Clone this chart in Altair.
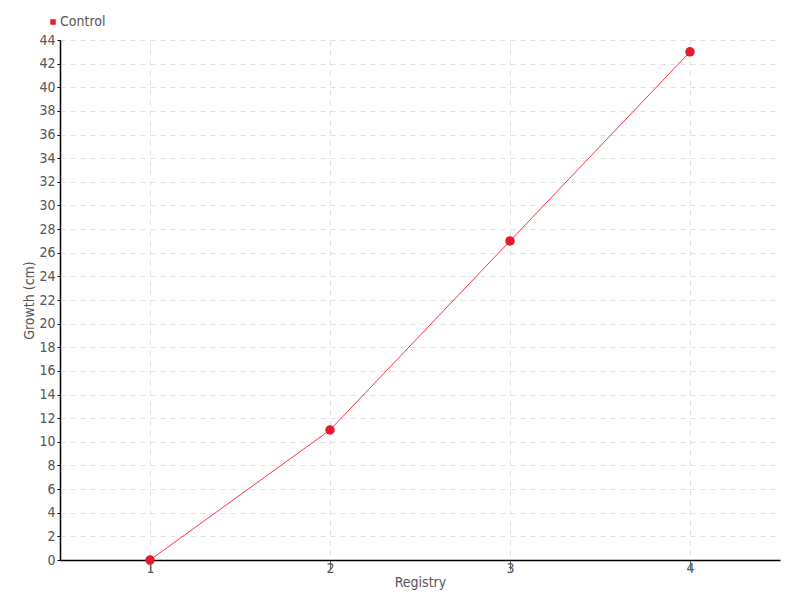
import altair as alt
import pandas as pd

registry = ["1", "2", "3", "4"]
growth = [0, 11, 27, 43]
series = ["Control"] * 4

df = pd.DataFrame({"Registry": registry, "Growth": growth, "Series": series})

FONT = "Liberation Sans Narrow, DejaVu Sans Condensed"
RED = "#e8192c"

color = alt.Color("Series:N", scale=alt.Scale(domain=["Control"], range=[RED]),
                  legend=alt.Legend(title=None, orient="none", legendX=-14, legendY=-25,
                                    symbolType="square", symbolSize=30, labelFontSize=14,
                                    labelColor="#555", labelFont=FONT, symbolStrokeWidth=0,
                                    labelOffset=0))

x = alt.X("Registry:N", sort=registry,
          scale=alt.Scale(type="point", padding=0.5),
          axis=alt.Axis(title="Registry", labelAngle=0, grid=True, gridDash=[5, 5],
                        gridColor="#e0e0e0", domainColor="#000", tickColor="#666",
                        tickSize=10, labelPadding=-9, labelFontSize=14, labelColor="#555",
                        titleFontSize=14, titleColor="#555", titleFontWeight="normal",
                        titlePadding=0, labelFont=FONT, titleFont=FONT))
y = alt.Y("Growth:Q", scale=alt.Scale(domain=[0, 44], nice=False),
          axis=alt.Axis(title="Growth (cm)", values=list(range(0, 45, 2)), grid=True,
                        gridDash=[5, 5], gridColor="#e0e0e0", domainColor="#000",
                        tickColor="#000", tickSize=3, labelFontSize=14, labelColor="#555",
                        labelPadding=2, titleFontSize=14, titleColor="#555",
                        titleFontWeight="normal", titlePadding=2, labelFont=FONT,
                        titleFont=FONT))

line = alt.Chart(df).mark_line(color="#ff3344", strokeWidth=1).encode(x=x, y=y)
pts = alt.Chart(df).mark_point(filled=True, size=90, opacity=1).encode(x=x, y=y, color=color)

chart = (line + pts).properties(
    width=720, height=520, autosize=alt.AutoSizeParams(type="none"),
    padding={"left": 52, "top": 32, "right": 12, "bottom": 32}
).configure_view(stroke=None).configure_axis(domainWidth=1.5)

chart.save("out.html", embed_options={"renderer": "svg", "actions": False})
